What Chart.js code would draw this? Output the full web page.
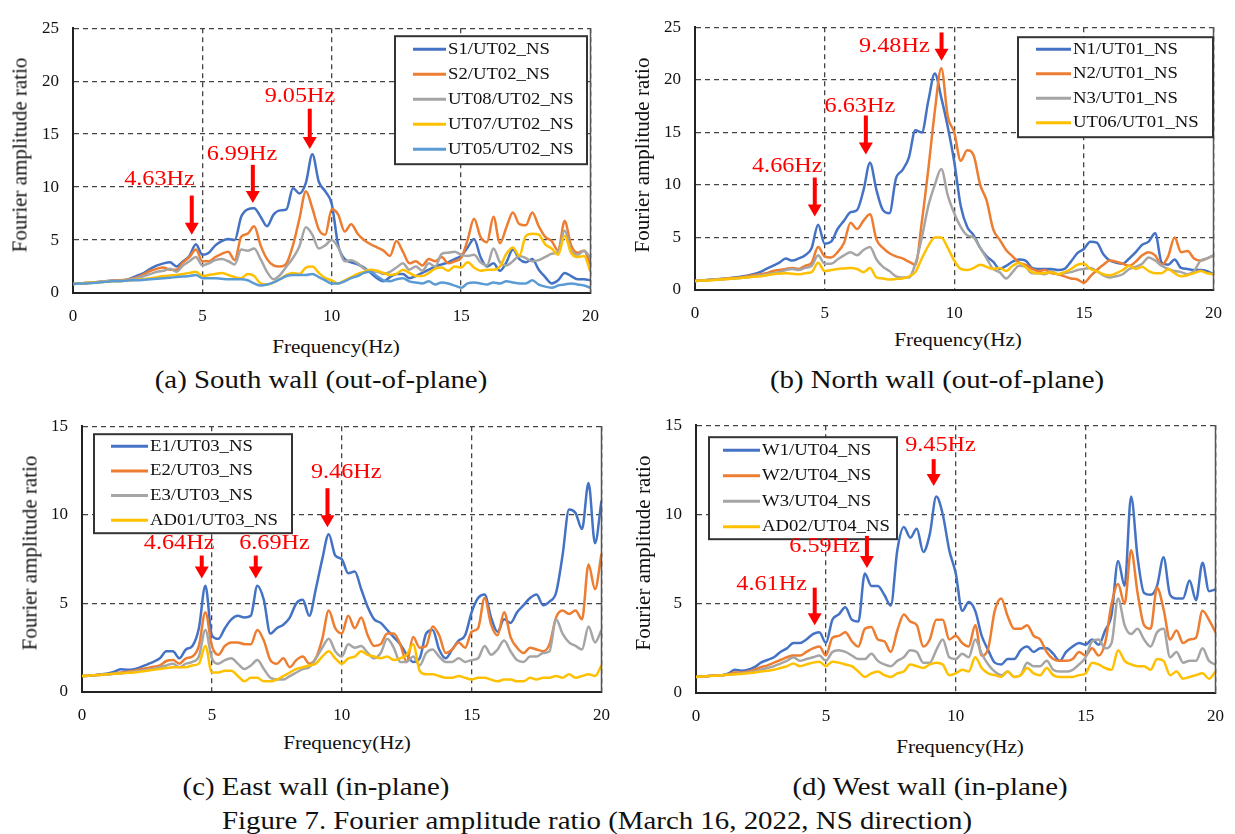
<!DOCTYPE html>
<html lang="en">
<head>
<meta charset="UTF-8" />
<title>Figure 7 - Fourier amplitude ratio</title>
<style>
  body {
    margin: 0; width: 1235px; height: 834px; position: relative; overflow: hidden;
    background: #fff; color: #111;
    font-family: 'Liberation Serif', 'Times New Roman', serif;
  }
  canvas { position: absolute; }
  .txt { position: absolute; white-space: nowrap; transform: translate(-50%, -50%) scaleX(1.11); }
  .ytitle { position: absolute; white-space: nowrap; font-size: 21px; transform: translate(-50%, -50%) rotate(-90deg); }
  .xtitle { font-size: 19px; }
  .cap { font-size: 26px; }
</style>
</head>
<body>
  <canvas id="chartA" width="599" height="325" style="left:13px;top:4px"></canvas>
  <canvas id="chartB" width="600" height="323" style="left:635px;top:3px"></canvas>
  <canvas id="chartC" width="601" height="326" style="left:22px;top:402px"></canvas>
  <canvas id="chartD" width="601" height="328" style="left:636px;top:401px"></canvas>

  <div class="ytitle" style="left:20px;top:155px">Fourier amplitude ratio</div>
  <div class="ytitle" style="left:642px;top:155px">Fourier amplitude ratio</div>
  <div class="ytitle" style="left:30px;top:553px">Fourier amplitude ratio</div>
  <div class="ytitle" style="left:643px;top:553px">Fourier amplitude ratio</div>

  <div class="txt xtitle" style="left:336px;top:347px">Frequency(Hz)</div>
  <div class="txt xtitle" style="left:958px;top:340px">Frequency(Hz)</div>
  <div class="txt xtitle" style="left:347px;top:743px">Frequency(Hz)</div>
  <div class="txt xtitle" style="left:960px;top:747px">Frequency(Hz)</div>

  <div class="txt cap" style="left:321px;top:380px">(a) South wall (out-of-plane)</div>
  <div class="txt cap" style="left:937px;top:380px">(b) North wall (out-of-plane)</div>
  <div class="txt cap" style="left:316px;top:787px">(c) East wall (in-plane)</div>
  <div class="txt cap" style="left:930px;top:787px">(d) West wall (in-plane)</div>
  <div class="txt cap" style="left:597px;top:821px">Figure 7. Fourier amplitude ratio (March 16, 2022, NS direction)</div>

  <script src="https://cdn.jsdelivr.net/npm/chart.js"></script>
  <script>
    // frequency axis (Hz), 0.25 Hz steps
    const freq = [0,0.25,0.5,0.75,1,1.25,1.5,1.75,2,2.25,2.5,2.75,3,3.25,3.5,3.75,4,4.25,4.5,4.75,5,
      5.25,5.5,5.75,6,6.25,6.5,6.75,7,7.25,7.5,7.75,8,8.25,8.5,8.75,9,9.25,9.5,9.75,10,
      10.25,10.5,10.75,11,11.25,11.5,11.75,12,12.25,12.5,12.75,13,13.25,13.5,13.75,14,
      14.25,14.5,14.75,15,15.25,15.5,15.75,16,16.25,16.5,16.75,17,17.25,17.5,17.75,18,
      18.25,18.5,18.75,19,19.25,19.5,19.75,20];

    // (a) South wall
    const S1 = [0.85,0.9,0.95,1.0,1.05,1.1,1.15,1.2,1.2, 1.4,1.65,1.9,2.3,2.6,2.8,2.9,2.5,
      3.0,3.5,4.6,3.6,3.8,4.5,4.9,5.1, 5.0,7.2,7.9,8.0,7.2,6.3,7.4,7.8, 7.9,9.9,9.4,10.4,13.1,10.5,9.6,8.4,
      4.5,3.2,2.9,2.7,2.4,1.9,1.4,1.1, 1.5,1.8,1.8,1.4,1.6,1.9,2.2,2.5, 2.7,2.9,3.2,3.5,4.3,5.1,3.4,2.5,
      2.8,2.1,2.9,4.1,3.2,2.9,3.2,2.2, 1.5,0.9,1.2,1.9,1.6,1.3,1.3,1.2];
    const S2 = [0.85,0.9,0.95,1.0,1.05,1.1,1.15,1.2,1.25, 1.35,1.5,1.8,2.1,2.3,2.4,2.2,2.2,
      2.9,3.4,4.1,3.0,3.0,3.4,3.7,3.9, 3.1,5.3,5.6,6.3,4.5,3.2,2.6,2.5, 2.8,4.5,7.0,9.6,8.0,6.0,5.5,7.9,
      7.4,5.8,6.5,5.6,5.0,4.6,4.3,4.0, 3.5,4.9,3.9,2.8,3.0,2.6,3.2,3.0, 3.4,2.8,3.0,3.3,5.0,7.0,5.3,4.8,
      7.2,4.7,6.2,7.6,6.5,6.4,7.6,6.3, 5.3,4.9,4.0,6.8,4.5,3.8,4.0,2.7];
    const UT08 = [0.85,0.9,0.95,1.0,1.05,1.1,1.15,1.15,1.2, 1.3,1.4,1.6,1.8,2.0,2.1,2.3,2.0,
      2.6,3.0,3.4,2.6,2.8,3.1,3.2,3.0, 2.7,4.1,4.0,4.2,3.2,2.0,1.3,1.7, 2.5,3.3,4.4,6.2,5.5,4.2,4.5,5.0,
      4.3,3.0,3.1,2.8,2.3,2.0,2.0,1.8, 2.0,2.4,2.8,2.2,2.5,2.1,2.8,2.5, 3.7,3.8,3.9,3.6,3.5,3.6,2.9,2.6,
      4.2,2.9,2.6,3.0,3.5,3.3,3.0,3.1, 3.4,3.7,3.9,5.9,4.0,3.6,4.0,3.3];
    const UT07 = [0.85,0.9,0.95,1.0,1.0,1.05,1.1,1.1,1.15, 1.2,1.25,1.3,1.4,1.5,1.6,1.65,1.7,
      1.8,1.9,2.0,1.6,1.7,1.8,1.9,1.7, 1.5,1.4,1.8,1.6,0.9,0.8,1.0,1.3, 1.7,1.9,1.8,2.4,2.5,1.9,1.4,1.2,
      0.9,1.2,1.5,1.8,2.0,2.2,2.1,1.9, 1.7,1.8,2.2,1.9,1.6,1.6,1.9,2.3, 2.4,2.1,2.5,2.4,2.9,2.4,2.1,2.2,
      2.2,2.5,3.7,4.3,3.5,5.4,5.6,5.5, 4.6,4.2,3.6,5.4,3.8,3.4,3.5,2.0];
    const UT05 = [0.85,0.9,0.9,0.95,1.0,1.05,1.1,1.1,1.15, 1.2,1.2,1.25,1.3,1.35,1.4,1.45,1.5,
      1.55,1.6,1.7,1.4,1.4,1.4,1.35,1.3, 1.3,1.3,1.2,0.9,0.7,0.8,1.0,1.3, 1.6,1.7,1.7,1.7,1.8,1.5,1.2,0.9,
      0.9,1.1,1.4,1.6,1.9,2.0,1.6,1.2, 1.1,1.3,1.4,1.1,1.0,0.9,1.1,0.8, 1.0,0.9,0.7,0.5,0.9,1.0,0.9,0.8,
      1.0,0.9,1.1,1.0,0.9,0.9,1.2,0.8, 0.6,0.5,0.7,0.8,0.9,0.8,0.7,0.5];

    // (b) North wall
    const N1 = [0.85,0.9,0.95,1.0,1.05,1.1,1.2,1.25,1.35, 1.5,1.7,2.0,2.3,2.6,3.0,2.8,3.0,
      3.3,4.0,6.2,4.4,4.6,5.8,6.6,7.4, 7.6,9.5,12.1,9.5,7.6,7.3,10.6,11.4, 12.6,15.2,15.0,18.0,20.6,18.3,15.5,12.2,
      8.0,6.0,5.2,4.0,3.2,2.7,2.0,2.3, 2.7,2.9,2.8,2.1,2.0,2.0,2.0,1.9, 2.0,2.7,3.5,3.9,4.6,4.5,3.4,2.8,
      2.6,2.5,3.0,3.6,4.3,4.6,5.4,2.6, 2.4,2.9,2.1,2.0,1.9,1.9,1.8,1.5];
    const N2 = [0.85,0.9,0.95,1.0,1.05,1.1,1.15,1.2,1.3, 1.4,1.5,1.6,1.8,1.9,2.0,2.1,2.0,
      2.3,2.6,4.1,3.2,3.1,3.6,4.5,6.4, 5.8,6.6,7.2,4.8,4.0,3.5,3.2,3.0, 2.7,2.4,6.5,11.5,17.0,21.1,16.5,15.0,
      12.3,13.3,12.8,10.0,8.5,5.8,4.8,3.8, 3.2,2.6,2.4,2.0,1.8,1.9,1.6,1.5, 1.3,1.1,1.0,0.7,1.3,1.9,2.4,2.8,
      2.7,2.5,2.3,2.7,3.3,3.6,3.3,2.4, 3.2,5.0,3.6,3.7,3.0,2.8,3.0,3.3];
    const N3 = [0.85,0.9,0.95,1.0,1.0,1.05,1.1,1.15,1.2, 1.3,1.4,1.5,1.6,1.7,1.9,2.0,1.9,
      2.1,2.3,3.3,2.5,2.5,2.9,3.3,3.6, 3.3,3.8,4.1,2.9,2.2,1.8,1.3,1.2, 1.2,2.5,5.0,8.0,10.0,11.5,9.0,7.3,
      6.0,5.2,5.0,4.0,3.0,2.0,1.7,1.1, 1.7,2.3,2.2,1.6,1.6,1.5,1.8,1.5, 1.6,1.7,1.9,2.0,2.1,1.8,1.4,1.2,
      1.3,1.5,2.0,2.2,2.5,3.1,2.8,2.3, 2.0,1.8,1.7,1.5,1.8,2.8,3.0,3.3];
    const UT06 = [0.85,0.9,0.9,0.95,1.0,1.05,1.1,1.15,1.2, 1.25,1.3,1.4,1.5,1.55,1.6,1.55,1.5,
      1.6,1.7,2.6,1.8,1.9,2.0,2.05,2.1, 2.0,1.7,2.1,1.2,1.1,1.0,1.05,1.1, 1.3,1.7,3.0,4.2,5.0,5.0,4.0,2.8,
      2.0,1.9,2.1,2.4,2.2,2.0,2.1,1.8, 2.3,2.6,2.2,1.7,1.6,1.6,1.7,1.5, 1.7,2.0,2.4,2.5,2.0,1.8,1.5,1.4,
      1.6,1.9,2.3,2.0,2.2,1.8,1.6,1.6, 2.0,1.6,1.3,1.4,1.6,1.8,1.6,1.5];

    // (c) East wall
    const E1 = [0.9,0.92,0.95,1.0,1.05,1.15,1.28,1.25,1.28, 1.4,1.55,1.7,1.9,2.3,2.3,1.9,2.4,
      2.6,3.6,6.0,3.2,3.0,3.6,4.1,4.3, 4.2,4.3,6.0,5.2,3.3,3.6,3.8,4.2, 5.0,5.2,4.3,5.8,7.5,8.9,7.7,7.5,
      6.7,6.8,5.8,4.8,4.1,3.9,3.5,3.1, 2.7,2.1,1.7,1.9,3.3,3.5,2.4,1.9, 2.4,2.9,3.2,4.5,5.3,5.5,4.2,3.4,
      4.1,3.9,4.5,4.9,5.3,5.5,4.9,5.1, 5.6,7.7,10.3,10.1,9.2,11.8,8.4,10.8];
    const E2 = [0.9,0.92,0.95,0.98,1.0,1.05,1.1,1.15,1.2, 1.28,1.35,1.42,1.5,1.75,1.8,1.6,1.9,
      2.0,2.6,4.5,2.6,2.1,2.6,2.8,2.8, 2.7,2.7,3.5,2.9,1.8,1.6,1.9,1.4, 1.8,2.0,1.6,1.9,3.0,4.6,3.6,3.3,
      4.3,3.6,4.2,3.2,2.6,2.7,3.3,3.3, 2.7,1.7,3.1,2.5,2.6,3.7,3.2,2.2, 2.4,2.8,2.5,3.4,3.6,5.3,3.8,3.2,
      4.5,3.1,2.5,2.2,2.5,2.4,2.3,2.7, 4.2,4.6,4.4,4.6,4.1,7.2,5.8,7.8];
    const E3 = [0.9,0.92,0.95,0.98,1.0,1.03,1.06,1.1,1.15, 1.2,1.25,1.32,1.4,1.5,1.6,1.4,1.6,
      1.7,2.0,3.5,1.9,1.6,1.8,1.9,1.6, 1.3,1.5,1.8,1.3,0.8,0.7,0.7,0.9, 1.1,1.3,1.4,1.9,2.5,3.0,2.3,2.0,
      2.7,2.5,2.6,2.2,1.9,2.2,3.0,2.5, 1.7,1.7,2.0,1.5,2.2,2.4,2.0,1.7, 1.7,1.9,1.7,1.8,1.9,2.6,2.1,2.4,
      2.9,2.3,1.8,1.7,2.0,2.0,2.2,2.3, 4.1,3.3,2.8,2.6,2.4,3.7,2.8,3.5];
    const AD01 = [0.9,0.92,0.95,0.98,1.0,1.03,1.05,1.08,1.1, 1.15,1.2,1.25,1.3,1.35,1.4,1.4,1.4,
      1.5,1.6,2.6,1.1,1.1,1.2,1.2,0.9, 0.6,0.8,0.8,0.6,0.6,0.7,0.9,1.1, 1.3,1.4,1.5,1.6,2.0,2.3,1.9,1.6,
      1.9,2.0,2.3,2.1,2.0,1.9,2.0,1.8, 1.9,2.1,2.7,1.2,1.0,1.0,0.9,0.8, 0.8,0.9,0.8,0.7,0.8,0.8,0.7,0.6,
      0.7,0.7,0.6,0.6,0.8,0.7,0.8,0.8, 0.9,0.8,1.0,0.8,0.9,1.0,0.9,1.5];

    // (d) West wall
    const W1 = [0.9,0.92,0.95,1.0,1.0,1.1,1.3,1.25,1.3, 1.45,1.7,1.85,2.0,2.3,2.5,2.8,2.8,
      3.0,3.3,3.4,2.8,4.1,4.4,4.8,4.1, 4.0,6.7,6.0,6.0,5.5,4.9,8.0,9.3, 8.7,9.2,7.9,8.9,11.0,10.0,8.0,6.7,
      4.6,5.1,4.6,3.2,2.4,1.7,1.6,1.9, 1.9,2.4,2.6,2.3,2.5,2.5,2.2,1.8, 2.3,2.6,2.8,2.7,3.0,2.7,3.5,4.4,
      7.4,6.0,11.0,7.6,5.6,5.5,6.0,7.6, 5.5,5.3,5.3,6.3,5.2,7.3,5.7,5.8];
    const W2 = [0.9,0.92,0.95,1.0,1.0,1.05,1.15,1.15,1.2, 1.3,1.45,1.55,1.7,1.85,2.0,2.1,2.1,
      2.3,2.5,2.6,2.1,3.1,3.2,3.4,2.9, 2.6,3.6,3.7,3.0,2.9,2.3,3.5,4.4, 4.0,3.8,2.6,3.0,4.1,4.1,3.0,3.2,
      2.8,2.6,3.8,2.1,2.5,4.6,5.3,4.3, 3.6,3.6,3.8,3.2,3.0,2.3,1.9,1.8, 1.8,1.9,2.3,2.1,2.5,2.1,2.8,5.0,
      6.1,5.0,8.0,5.6,3.8,3.6,5.9,4.7, 3.0,3.5,2.8,3.0,3.1,4.6,4.1,3.4];
    const W3 = [0.9,0.92,0.95,0.98,1.0,1.03,1.07,1.1,1.15, 1.2,1.3,1.4,1.5,1.65,1.8,2.0,1.8,
      1.9,2.0,2.1,1.8,2.3,2.4,2.3,2.1, 1.9,1.9,2.2,1.8,1.6,1.5,1.8,2.0, 2.4,2.3,1.7,1.7,2.4,3.0,2.0,1.9,
      2.2,2.0,3.0,2.2,1.6,1.2,1.0,1.2, 0.9,1.0,1.7,1.5,1.5,1.8,1.3,1.2, 1.2,1.3,1.6,2.0,2.9,3.0,2.5,2.8,
      5.3,3.8,3.3,3.6,3.0,2.6,3.4,3.6, 2.0,2.3,1.7,1.8,1.8,2.5,1.8,1.6];
    const AD02 = [0.9,0.92,0.95,0.97,1.0,1.02,1.05,1.07,1.1, 1.15,1.2,1.25,1.3,1.4,1.5,1.65,1.5,
      1.6,1.7,1.75,1.5,1.75,1.7,1.6,1.5, 1.2,0.9,1.1,1.2,1.0,0.9,1.1,1.2, 1.6,1.5,1.4,1.6,1.7,1.6,1.0,1.1,
      1.3,1.2,2.0,1.4,1.1,1.0,0.9,1.2, 0.9,1.0,1.4,1.1,1.0,1.4,1.0,0.9, 0.9,0.9,1.0,1.1,1.7,1.6,1.4,1.3,
      2.4,1.8,1.6,1.5,1.5,1.3,1.9,1.8, 1.0,1.2,0.8,0.9,1.0,1.1,0.8,1.2];

    const COLORS = ['#4472C4', '#ED7D31', '#A5A5A5', '#FFC000', '#5B9BD5'];

    function stretchText(ctx, str, x, y, color, size, align, sx) {
      ctx.save();
      ctx.translate(x, y);
      ctx.scale(sx, 1);
      ctx.font = size + "px 'Liberation Serif', serif";
      ctx.fillStyle = color;
      ctx.textAlign = align;
      ctx.textBaseline = 'middle';
      ctx.fillText(str, 0, 0);
      ctx.restore();
    }

    // legend box, peak labels with arrows, right frame
    const extras = {
      id: 'extras',
      afterDatasetsDraw(chart, args, opts) {
        const { ctx, chartArea: a, scales: { x, y } } = chart;
        ctx.save();
        ctx.strokeStyle = '#555';
        ctx.lineWidth = 1.5;
        ctx.beginPath();
        ctx.moveTo(a.right, a.top);
        ctx.lineTo(a.right, a.bottom);
        ctx.stroke();

        const lg = opts.legend;
        const bx = a.left + lg.x, by = a.top + lg.y;
        ctx.fillStyle = '#fff';
        ctx.fillRect(bx, by, lg.w, lg.h);
        ctx.strokeStyle = '#333';
        ctx.lineWidth = 2;
        ctx.strokeRect(bx, by, lg.w, lg.h);
        chart.data.datasets.forEach((ds, i) => {
          const ry = by + lg.first + i * lg.row;
          ctx.strokeStyle = ds.borderColor;
          ctx.lineWidth = 3;
          ctx.beginPath();
          ctx.moveTo(bx + lg.line, ry);
          ctx.lineTo(bx + lg.line + lg.len, ry);
          ctx.stroke();
          stretchText(ctx, ds.label, bx + lg.line + lg.len + 2, ry, '#111', 17, 'left', 1.1);
        });

        opts.notes.forEach(n => {
          stretchText(ctx, n.text, x.getPixelForValue(n.tx), y.getPixelForValue(n.ty), '#ff0000', 22, 'center', 1.1);
          const ax = x.getPixelForValue(n.ax);
          const y1 = y.getPixelForValue(n.y1), y2 = y.getPixelForValue(n.y2);
          ctx.strokeStyle = '#ff0000';
          ctx.lineWidth = 4;
          ctx.beginPath();
          ctx.moveTo(ax, y1);
          ctx.lineTo(ax, y2 - 10);
          ctx.stroke();
          ctx.fillStyle = '#ff0000';
          ctx.beginPath();
          ctx.moveTo(ax - 7, y2 - 12);
          ctx.lineTo(ax + 7, y2 - 12);
          ctx.lineTo(ax, y2);
          ctx.closePath();
          ctx.fill();
        });
        ctx.restore();
      }
    };

    const tickFont = { family: "'Liberation Serif', serif", size: 17 };

    function makeChart(id, yMax, names, series, legend, notes) {
      return new Chart(document.getElementById(id), {
        type: 'line',
        data: {
          datasets: series.map((vals, i) => ({
            label: names[i],
            data: vals.map((v, k) => ({ x: freq[k], y: v })),
            borderColor: COLORS[i],
            borderWidth: 2.5,
            pointRadius: 0,
            fill: false,
            cubicInterpolationMode: 'monotone',
            order: -i
          }))
        },
        options: {
          responsive: false,
          animation: false,
          events: [],
          layout: { padding: { top: 12, right: 12, left: 0, bottom: 0 } },
          plugins: {
            legend: { display: false },
            tooltip: { enabled: false },
            extras: { legend: legend, notes: notes }
          },
          scales: {
            x: {
              type: 'linear', min: 0, max: 20,
              ticks: { stepSize: 5, font: tickFont, color: '#111', padding: 13, maxRotation: 0 },
              grid: { color: '#444', lineWidth: 1.3, drawTicks: false },
              border: { display: true, color: '#222', width: 2, dash: [5, 4] },
              afterFit: s => { s.height = 36; }
            },
            y: {
              min: 0, max: yMax,
              ticks: { stepSize: 5, font: tickFont, color: '#111', padding: 14 },
              grid: { color: '#444', lineWidth: 1.3, drawTicks: false },
              border: { display: true, color: '#222', width: 2, dash: [5, 4] },
              afterFit: s => { s.width = 60; }
            }
          }
        },
        plugins: [extras]
      });
    }

    makeChart('chartA', 25,
      ['S1/UT02_NS', 'S2/UT02_NS', 'UT08/UT02_NS', 'UT07/UT02_NS', 'UT05/UT02_NS'],
      [S1, S2, UT08, UT07, UT05],
      { x: 322, y: 8, w: 192, h: 128, first: 13, row: 25, line: 18, len: 33 },
      [
        { text: '9.05Hz', tx: 8.77, ty: 18.6, ax: 9.15, y1: 17.4, y2: 13.6 },
        { text: '6.99Hz', tx: 6.53, ty: 13.1, ax: 6.95, y1: 12.1, y2: 8.5 },
        { text: '4.63Hz', tx: 3.34, ty: 10.7, ax: 4.59, y1: 9.2, y2: 5.5 }
      ]);

    makeChart('chartB', 25,
      ['N1/UT01_NS', 'N2/UT01_NS', 'N3/UT01_NS', 'UT06/UT01_NS'],
      [N1, N2, N3, UT06],
      { x: 323, y: 10, w: 195, h: 100, first: 12, row: 24.5, line: 18, len: 35 },
      [
        { text: '9.48Hz', tx: 7.69, ty: 23.2, ax: 9.51, y1: 24.5, y2: 21.8 },
        { text: '6.63Hz', tx: 6.36, ty: 17.5, ax: 6.59, y1: 16.6, y2: 12.9 },
        { text: '4.66Hz', tx: 3.56, ty: 11.8, ax: 4.62, y1: 10.7, y2: 7.0 }
      ]);

    makeChart('chartC', 15,
      ['E1/UT03_NS', 'E2/UT03_NS', 'E3/UT03_NS', 'AD01/UT03_NS'],
      [E1, E2, E3, AD01],
      { x: 12, y: 8, w: 198, h: 99, first: 12, row: 24.7, line: 17, len: 37 },
      [
        { text: '9.46Hz', tx: 10.17, ty: 12.4, ax: 9.45, y1: 11.5, y2: 9.3 },
        { text: '4.64Hz', tx: 3.74, ty: 8.4, ax: 4.61, y1: 7.7, y2: 6.4 },
        { text: '6.69Hz', tx: 7.41, ty: 8.4, ax: 6.69, y1: 7.7, y2: 6.4 }
      ]);

    makeChart('chartD', 15,
      ['W1/UT04_NS', 'W2/UT04_NS', 'W3/UT04_NS', 'AD02/UT04_NS'],
      [W1, W2, W3, AD02],
      { x: 13, y: 12, w: 188, h: 102, first: 13, row: 25.5, line: 14, len: 37 },
      [
        { text: '9.45Hz', tx: 9.41, ty: 13.9, ax: 9.15, y1: 13.1, y2: 11.6 },
        { text: '6.59Hz', tx: 4.95, ty: 8.2, ax: 6.58, y1: 8.8, y2: 7.0 },
        { text: '4.61Hz', tx: 2.91, ty: 6.1, ax: 4.57, y1: 5.9, y2: 3.8 }
      ]);
  </script>
</body>
</html>
